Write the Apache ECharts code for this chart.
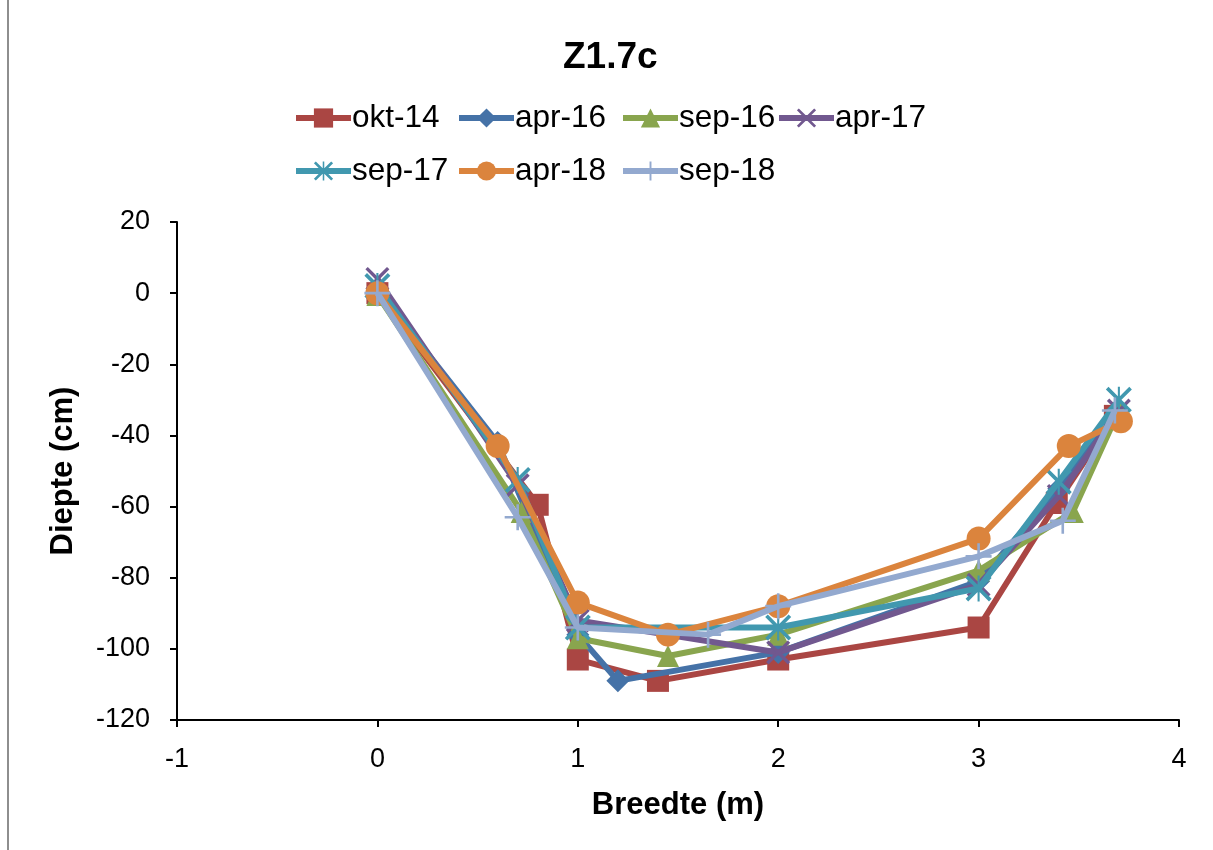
<!DOCTYPE html>
<html>
<head>
<meta charset="utf-8">
<script src="https://cdn.jsdelivr.net/npm/echarts@6/dist/echarts.min.js"></script>
<style>
  html, body { margin: 0; padding: 0; background: #fff; }
  #chart { width: 1213px; height: 850px; position: relative; }
  #frame { position: absolute; left: 7px; top: 0; width: 2px; height: 850px; background: #8e8e8e; }
</style>
</head>
<body>
<div id="chart"></div>
<div id="frame"></div>
<script>
const chartTitle = 'Z1.7c';
const xAxisName = 'Breedte (m)';
const yAxisName = 'Diepte (cm)';
const seriesNames = ['okt-14', 'apr-16', 'sep-16', 'apr-17', 'sep-17', 'apr-18', 'sep-18'];

const okt14 = [[0, 0], [0.8, -59.5], [1.0, -103], [1.4, -109], [2.0, -103], [3.0, -94], [3.39, -59], [3.68, -34.5]];
const apr16 = [[0, 1], [0.6, -42], [1.0, -96], [1.2, -109], [2.0, -101], [3.0, -81], [3.4, -55], [3.7, -33]];
const sep16 = [[0, -0.5], [0.72, -61.5], [1.0, -97], [1.45, -102], [2.0, -96], [3.0, -78], [3.47, -61.5], [3.7, -33]];
const apr17 = [[0, 4], [0.7, -54], [1.0, -92], [2.0, -101], [3.0, -82], [3.4, -57], [3.7, -33]];
const sep17 = [[0, 2], [0.7, -52.5], [1.0, -94], [2.0, -94], [3.0, -83], [3.4, -53], [3.7, -30]];
const apr18 = [[0, 0], [0.6, -43], [1.0, -87], [1.45, -96], [2.0, -88], [3.0, -69], [3.45, -43], [3.71, -36]];
const sep18 = [[0, 0], [0.7, -63], [1.0, -94], [1.65, -96], [2.0, -88], [3.0, -74], [3.42, -64], [3.68, -33]];

const seriesData = [okt14, apr16, sep16, apr17, sep17, apr18, sep18];
const colors = ['#AA4643', '#4572A7', '#89A54E', '#71588F', '#4198AF', '#DB843D', '#93A9CF'];

const xSym = 'path://M0,2 L2,0 L10,8 L18,0 L20,2 L12,10 L20,18 L18,20 L10,12 L2,20 L0,18 L8,10 Z';
const starSym = 'path://M0,2 L2,0 L10,8 L18,0 L20,2 L12,10 L20,18 L18,20 L10,12 L2,20 L0,18 L8,10 Z M9.2,0 L10.8,0 L10.8,20 L9.2,20 Z';
const plusSym = 'path://M9,0 L11,0 L11,9 L20,9 L20,11 L11,11 L11,20 L9,20 L9,11 L0,11 L0,9 L9,9 Z';
const symbols = ['rect', 'diamond', 'triangle', xSym, starSym, 'circle', plusSym];
const symbolSizes = [22, 23, 22, 24, 26, 24, 26];

const FONT = '"Liberation Sans", Arial, sans-serif';

const legendPos = [
  [288, 97], [451, 97], [615, 97], [771, 97],
  [288, 150], [451, 150], [615, 150]
];

const chart = echarts.init(document.getElementById('chart'), null, { renderer: 'canvas' });

const option = {
  backgroundColor: '#fff',
  animation: false,
  title: {
    text: chartTitle,
    left: 558,
    top: 34,
    textStyle: { fontFamily: FONT, fontSize: 37, fontWeight: 'bold', color: '#000' }
  },
  legend: seriesNames.map((n, i) => ({
    data: [n],
    left: legendPos[i][0],
    top: legendPos[i][1],
    itemWidth: 55,
    itemHeight: 24,
    itemGap: 2,
    selectedMode: false,
    lineStyle: { width: 6 },
    textStyle: { fontFamily: FONT, fontSize: 31.5, color: '#000', padding: [0, 0, 0, -4] }
  })),
  grid: { left: 177, right: 34, top: 222, bottom: 130, containLabel: false },
  xAxis: {
    type: 'value',
    min: -1, max: 4, interval: 1,
    name: xAxisName,
    nameLocation: 'middle',
    nameGap: 70,
    nameTextStyle: { fontFamily: FONT, fontSize: 31, fontWeight: 'bold', color: '#000' },
    axisLine: { onZero: false, lineStyle: { color: '#000', width: 2 } },
    axisTick: { show: true, length: 7, inside: false, lineStyle: { color: '#000', width: 2 } },
    axisLabel: { fontFamily: FONT, fontSize: 27, color: '#000', margin: 26 },
    splitLine: { show: false }
  },
  yAxis: {
    type: 'value',
    min: -120, max: 20, interval: 20,
    name: yAxisName,
    nameLocation: 'middle',
    nameGap: 98,
    nameRotate: 90,
    nameTextStyle: { fontFamily: FONT, fontSize: 31, fontWeight: 'bold', color: '#000' },
    axisLine: { show: true, onZero: false, lineStyle: { color: '#000', width: 2 } },
    axisTick: { show: true, length: 7, inside: false, lineStyle: { color: '#000', width: 2 } },
    axisLabel: { fontFamily: FONT, fontSize: 27, color: '#000', margin: 27 },
    splitLine: { show: false }
  },
  series: seriesNames.map((n, i) => ({
    name: n,
    type: 'line',
    data: seriesData[i],
    symbol: symbols[i],
    symbolSize: symbolSizes[i],
    showAllSymbol: true,
    lineStyle: { color: colors[i], width: 6 },
    itemStyle: { color: colors[i], borderWidth: 0 },
    emphasis: { disabled: true },
    z: 2 + i
  }))
};

chart.setOption(option);
</script>
</body>
</html>
